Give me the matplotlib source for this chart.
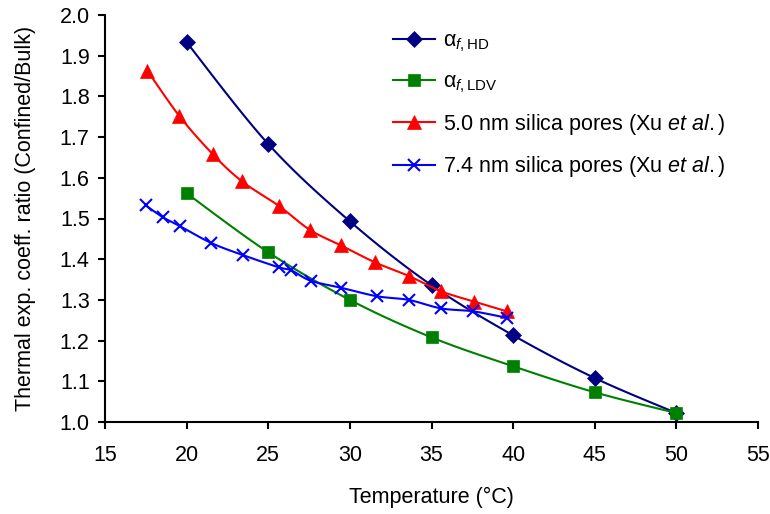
import numpy as np
import matplotlib
matplotlib.use("Agg")
import matplotlib.pyplot as plt

plt.rcParams['font.family'] = ['Liberation Sans', 'DejaVu Sans']
plt.rcParams['mathtext.fontset'] = 'custom'
plt.rcParams['mathtext.rm'] = 'Liberation Sans'
plt.rcParams['mathtext.it'] = 'Liberation Sans:italic'
plt.rcParams['mathtext.bf'] = 'Liberation Sans:bold'

# Data
hd_T = [20, 25, 30, 35, 40, 45, 50]
hd_y = [1.933, 1.683, 1.493, 1.336, 1.213, 1.108, 1.022]

ldv_T = [20, 25, 30, 35, 40, 45, 50]
ldv_y = [1.562, 1.417, 1.300, 1.208, 1.137, 1.073, 1.022]

p50_T = [17.6, 19.55, 21.6, 23.4, 25.65, 27.55, 29.45, 31.55, 33.6, 35.6, 37.6, 39.6]
p50_y = [1.863, 1.752, 1.658, 1.591, 1.531, 1.472, 1.434, 1.392, 1.359, 1.321, 1.296, 1.272]

p74_T = [17.5, 18.55, 19.6, 21.5, 23.45, 25.65, 26.4, 27.6, 29.45, 31.65, 33.6, 35.6, 37.55, 39.6]
p74_y = [1.532, 1.503, 1.481, 1.440, 1.410, 1.380, 1.373, 1.347, 1.330, 1.309, 1.300, 1.279, 1.272, 1.256]

labels = [r'α$_{f,\mathrm{HD}}$', r'α$_{f,\mathrm{LDV}}$',
          r'5.0 nm silica pores (Xu $\mathit{et\ al}$$\mathit{.}$)',
          r'7.4 nm silica pores (Xu $\mathit{et\ al}$$\mathit{.}$)']

FS = 15.5


def smooth(x, y, n=20):
    """Excel-like smoothed line (Catmull-Rom through the points)."""
    x = np.asarray(x, float); y = np.asarray(y, float)
    P = np.column_stack([x, y])
    P = np.vstack([P[0], P, P[-1]])
    out = []
    t = np.linspace(0, 1, n, endpoint=False)
    for i in range(1, len(P) - 2):
        p0, p1, p2, p3 = P[i - 1], P[i], P[i + 1], P[i + 2]
        c1 = p1 + (p2 - p0) / 6
        c2 = p2 - (p3 - p1) / 6
        for tt in t:
            b = ((1 - tt) ** 3) * p1 + 3 * ((1 - tt) ** 2) * tt * c1 + 3 * (1 - tt) * tt ** 2 * c2 + tt ** 3 * p2
            out.append(b)
    out.append(P[-2])
    out = np.array(out)
    return out[:, 0], out[:, 1]


fig = plt.figure(figsize=(7.7, 5.14), dpi=100)
ax = fig.add_axes([105 / 770, 1 - 422 / 514, 653 / 770, 407 / 514])

series = [
    (hd_T, hd_y, '#000080', 'D', 8.5, labels[0]),
    (ldv_T, ldv_y, '#008000', 's', 9, labels[1]),
    (p50_T, p50_y, '#FF0000', '^', 10, labels[2]),
    (p74_T, p74_y, '#0000FF', 'x', 9, labels[3]),
]
handles = []
for T, y, c, m, ms, lab in series:
    sx, sy = smooth(T, y)
    ax.plot(sx, sy, color=c, lw=1.5)
    ax.plot(T, y, linestyle='none', marker=m, color=c, ms=ms, mew=1.5 if m == 'x' else 0.5)
    h, = ax.plot([], [], color=c, lw=1.5, marker=m, ms=ms, mew=1.5 if m == 'x' else 0.5, label=lab)
    handles.append(h)

ax.set_xlim(15, 55)
ax.set_ylim(1.0, 2.0)
ax.set_xticks(np.arange(15, 56, 5))
ax.set_yticks(np.arange(1.0, 2.01, 0.1))
ax.set_yticklabels([f'{v:.1f}' for v in np.arange(1.0, 2.01, 0.1)])
for s in ['top', 'right']:
    ax.spines[s].set_visible(False)
for s in ['left', 'bottom']:
    ax.spines[s].set_linewidth(1.5)
ax.tick_params(axis='both', direction='out', length=5, width=1.5, labelsize=FS)
ax.tick_params(axis='x', pad=11.5)
ax.tick_params(axis='y', pad=6)

ax.set_xlabel('Temperature (°C)', fontsize=FS, labelpad=15)
ax.set_ylabel('Thermal exp. coeff. ratio (Confined/Bulk)', fontsize=FS, labelpad=17)

leg = ax.legend(handles=handles, loc='upper left', bbox_to_anchor=(0.411, 1.01),
                frameon=False, fontsize=FS, handlelength=1.95, labelspacing=0.8,
                handletextpad=0.37)

fig.savefig('out.png', dpi=100)
